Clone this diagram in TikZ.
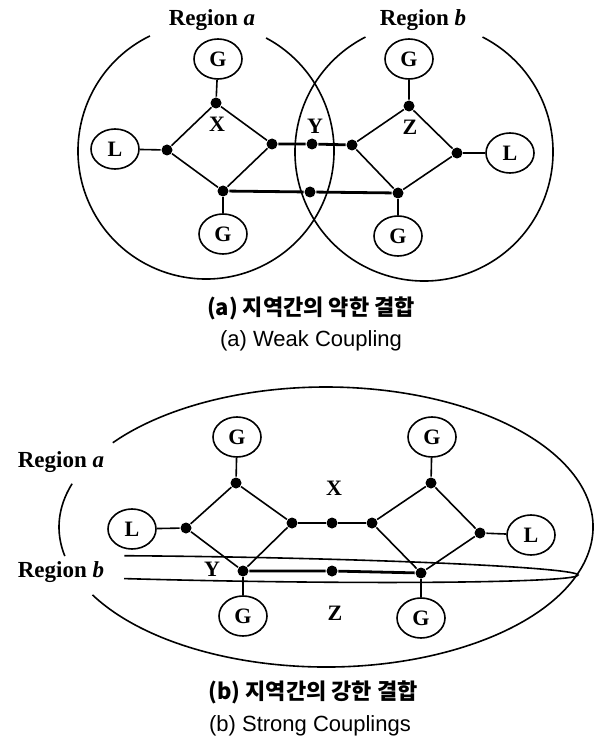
\documentclass[tikz,border=0pt]{standalone}
\usepackage{fontspec}
\setmainfont{Liberation Serif}
\setsansfont{Liberation Sans}
\newfontfamily\kofont{Noto Sans CJK KR}
\usetikzlibrary{shapes.geometric}

\begin{document}
\begin{tikzpicture}[x=0.5pt, y=0.5pt, line width=0.8pt,
  unit/.style={draw, ellipse, inner sep=0pt, minimum width=24pt, minimum height=20pt,
    font=\bfseries\fontsize{11}{11}\selectfont},
  bus/.style={circle, fill, inner sep=0pt, minimum size=5.5pt},
  lbl/.style={font=\bfseries\fontsize{11}{11}\selectfont},
  region/.style={font=\bfseries\fontsize{11.5}{12}\selectfont},
  tie/.style={line width=1.4pt},
  capko/.style={font=\kofont\bfseries\fontsize{11}{12}\selectfont},
  capen/.style={font=\sffamily\fontsize{11}{12}\selectfont}]
  \useasboundingbox (0,0) rectangle (603,-743);

  % (a) two regions, weak coupling
  \draw ([shift={(116:64pt)}]206,-151) arc[start angle=116, end angle=422, radius=64pt];
  \draw ([shift={(117:64.5pt)}]424,-152) arc[start angle=117, end angle=423, radius=64.5pt];
  \node[region] (rga) at (212,-20) {Region \textit{a}};
  \node[region] (rgb) at (423,-20) {Region \textit{b}};

  \node[unit] (ga) at (218,-59) {G};
  \node[unit] (la) at (115,-149) {L};
  \node[unit] (gb) at (223,-234) {G};
  \node[bus] (xn) at (216,-103) {};
  \node[bus] (xw) at (167,-150) {};
  \node[bus] (xe) at (272,-144) {};
  \node[bus] (xs) at (223,-191) {};
  \node[lbl] (xlab) at (217,-124) {X};

  \node[bus] (yn) at (312,-144) {};
  \node[bus] (ys) at (310,-192) {};
  \node[lbl] (ylab) at (315,-126) {Y};

  \node[unit] (gc) at (409,-59) {G};
  \node[unit] (lb) at (510,-153) {L};
  \node[unit] (gd) at (398,-236) {G};
  \node[bus] (zn) at (409,-106) {};
  \node[bus] (zw) at (352,-145) {};
  \node[bus] (ze) at (457,-153) {};
  \node[bus] (zs) at (398,-193) {};
  \node[lbl] (zlab) at (410,-127) {Z};

  \draw (ga) -- (xn) -- (xw) -- (xs) -- (xe) -- (xn);
  \draw (la) -- (xw);
  \draw (xs) -- (gb);
  \draw (gc) -- (zn) -- (zw) -- (zs) -- (ze) -- (zn);
  \draw (ze) -- (lb);
  \draw (zs) -- (gd);
  \draw[tie] (xe) -- (yn) -- (zw);
  \draw[tie] (xs) -- (ys) -- (zs);

  \node[capko] (capa) at (311,-308) {(a) 지역간의 약한 결합};
  \node[capen] (cape) at (311,-341) {(a) Weak Coupling};

  % (b) one region inside the other, strong coupling
  \draw ([shift={(209:133.5pt and 70pt)}]326,-527) arc[start angle=209, end angle=503, x radius=133.5pt, y radius=70pt];
  \draw ([shift={(162:133.5pt and 70pt)}]326,-527) arc[start angle=162, end angle=192, x radius=133.5pt, y radius=70pt];
  \begin{scope}[shift={(230,-569)}, rotate=-1]
    \draw (107.7:174pt and 6pt) arc[start angle=107.7, end angle=-107.7, x radius=174pt, y radius=6pt];
  \end{scope}
  \node[region] (rgc) at (61,-462) {Region \textit{a}};
  \node[region] (rgd) at (61,-572) {Region \textit{b}};

  \node[unit] (g1) at (237,-437) {G};
  \node[unit] (l1) at (132,-529) {L};
  \node[unit] (g2) at (243,-616) {G};
  \node[bus] (n1) at (236,-483) {};
  \node[bus] (w1) at (186,-528) {};
  \node[bus] (e1) at (292,-523) {};
  \node[bus] (s1) at (243,-571) {};

  \node[bus] (m1) at (332,-523) {};
  \node[bus] (m2) at (332,-571) {};
  \node[lbl] (xlb) at (334,-488) {X};
  \node[lbl] (ylb) at (212,-569) {Y};
  \node[lbl] (zlb) at (335,-613) {Z};

  \node[unit] (g3) at (432,-437) {G};
  \node[unit] (l2) at (531,-535) {L};
  \node[unit] (g4) at (421,-618) {G};
  \node[bus] (n2) at (431,-483) {};
  \node[bus] (w2) at (372,-523) {};
  \node[bus] (e2) at (480,-533) {};
  \node[bus] (s2) at (421,-573) {};

  \draw (g1) -- (n1) -- (w1) -- (s1) -- (e1) -- (n1);
  \draw (l1) -- (w1);
  \draw (s1) -- (g2);
  \draw (g3) -- (n2) -- (w2) -- (s2) -- (e2) -- (n2);
  \draw (e2) -- (l2);
  \draw (s2) -- (g4);
  \draw[tie] (e1) -- (m1) -- (w2);
  \draw[tie] (s1) -- (m2) -- (s2);

  \node[capko] (capb) at (313,-692) {(b) 지역간의 강한 결합};
  \node[capen] (capf) at (310,-726) {(b) Strong Couplings};
\end{tikzpicture}
\end{document}
